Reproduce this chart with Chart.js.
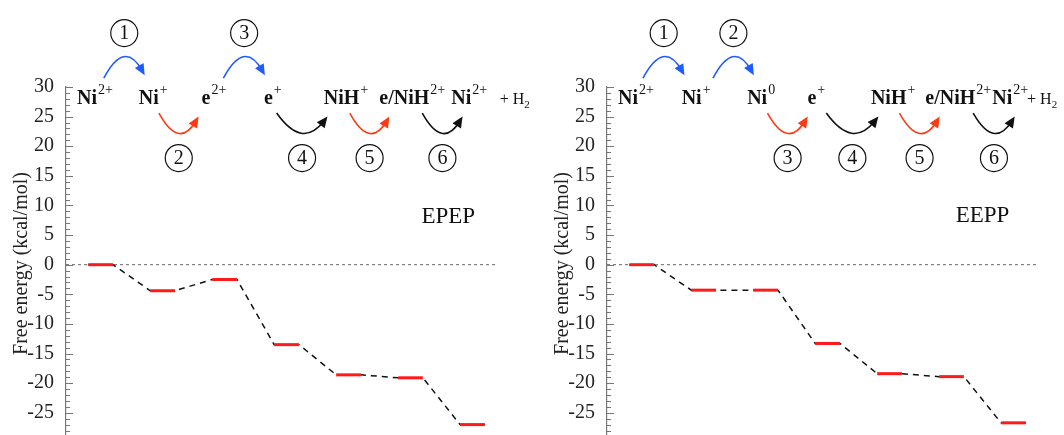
<!DOCTYPE html>
<html lang="en">
<head>
  <meta charset="UTF-8">
  <title>Free energy profiles: EPEP and EEPP</title>
  <style>
    body {
      margin: 0;
      overflow: hidden;
      background: #fff;
    }

    #wrap {
      display: flex;
      width: 1064px;
    }

    .panel {
      position: relative;
      width: 532px;
      height: 456px;
    }
  </style>
</head>
<body>
  <div id="wrap">
    <div class="panel"><canvas id="epepChart"></canvas></div>
    <div class="panel"><canvas id="eeppChart"></canvas></div>
  </div>

  <script src="https://cdn.jsdelivr.net/npm/chart.js"></script>
  <script>
    // data
    const steps = [0, 1, 2, 3, 4, 5, 6];
    const epepEnergy = [0, -4.4, -2.5, -13.5, -18.6, -19.1, -27.0];
    const eeppEnergy = [0, -4.3, -4.3, -13.3, -18.4, -18.9, -26.7];
    const epepSpecies = ['Ni', 'Ni', 'e', 'e', 'NiH', 'e/NiH', 'Ni'];
    const epepCharge = ['2+', '+', '2+', '+', '+', '2+', '2+'];
    const eeppSpecies = ['Ni', 'Ni', 'Ni', 'e', 'NiH', 'e/NiH', 'Ni'];
    const eeppCharge = ['2+', '+', '0', '+', '+', '2+', '2+'];
    // e = electron transfer (blue), p = proton transfer (red), c = chemical step (black)
    const epepArrowKind = ['e', 'p', 'e', 'c', 'p', 'c'];
    const eeppArrowKind = ['e', 'e', 'p', 'c', 'p', 'c'];
    const yTickValues = [-25, -20, -15, -10, -5, 0, 5, 10, 15, 20, 25, 30];

    const SERIF = '"Liberation Serif", "Times New Roman", serif';
    const ARROW_COLORS = { e: '#1f5cff', p: '#ff3a12', c: '#111111' };

    Chart.defaults.font.family = SERIF;
    Chart.defaults.color = '#222';

    function drawSpecies(ctx, cx, baseY, main, sup) {
      ctx.font = 'bold 20px ' + SERIF;
      const w1 = ctx.measureText(main).width;
      ctx.font = '14px ' + SERIF;
      const w2 = ctx.measureText(sup).width;
      const left = cx - (w1 + w2) / 2;
      ctx.fillStyle = '#111';
      ctx.textAlign = 'left';
      ctx.textBaseline = 'alphabetic';
      ctx.font = 'bold 20px ' + SERIF;
      ctx.fillText(main, left, baseY);
      ctx.font = '14px ' + SERIF;
      ctx.fillText(sup, left + w1 + 1, baseY - 10);
    }

    function drawArrow(ctx, x0, y0, xm, ym, x1, y1, color) {
      const cx = (x0 + x1) / 2;
      const cy = 2 * ym - (y0 + y1) / 2;
      let dx = x1 - cx, dy = y1 - cy;
      const len = Math.hypot(dx, dy);
      dx /= len; dy /= len;
      ctx.strokeStyle = color;
      ctx.fillStyle = color;
      ctx.lineWidth = 1.6;
      ctx.setLineDash([]);
      ctx.beginPath();
      ctx.moveTo(x0, y0);
      ctx.quadraticCurveTo(cx, cy, x1 - dx * 6, y1 - dy * 6);
      ctx.stroke();
      ctx.beginPath();
      ctx.moveTo(x1, y1);
      ctx.lineTo(x1 - dx * 11 - dy * 5, y1 - dy * 11 + dx * 5);
      ctx.lineTo(x1 - dx * 11 + dy * 5, y1 - dy * 11 - dx * 5);
      ctx.closePath();
      ctx.fill();
    }

    const schemePlugin = {
      id: 'scheme',
      afterDraw(chart, args, opts) {
        const { ctx, scales: { x, y } } = chart;
        const px = v => x.getPixelForValue(v);
        const py = v => y.getPixelForValue(v);
        ctx.save();

        // inward ticks on the y axis, minor every 1
        ctx.strokeStyle = '#777';
        ctx.lineWidth = 1;
        for (let v = Math.ceil(y.min); v <= y.max; v++) {
          const yy = Math.round(py(v)) + 0.5;
          const len = v % 5 === 0 ? 7 : 4;
          ctx.beginPath();
          ctx.moveTo(x.left, yy);
          ctx.lineTo(x.left + len, yy);
          ctx.stroke();
        }

        // species along the top
        for (let i = 0; i < opts.species.length; i++) {
          drawSpecies(ctx, px(opts.labelX[i]), py(27.2), opts.species[i], opts.charge[i]);
        }
        // + H2
        const hx = px(opts.h2X);
        const hy = py(27.2);
        ctx.font = '16px ' + SERIF;
        ctx.textAlign = 'left';
        ctx.fillText('+ H', hx, hy);
        const wh = ctx.measureText('+ H').width;
        ctx.font = '11px ' + SERIF;
        ctx.fillText('2', hx + wh, hy + 4);

        // step arrows with circled numbers
        opts.arrowKind.forEach((kind, k) => {
          const [a, b] = opts.arrowSpan[k];
          const up = kind === 'e';
          const y0 = up ? 31.5 : 25.6;
          const ym = up ? 34.9 : 22.4;
          const y1 = up ? 32.0 : 25.0;
          drawArrow(ctx, px(a), py(y0), px((a + b) / 2), py(ym), px(b), py(y1), ARROW_COLORS[kind]);

          const ccx = px((a + b) / 2);
          const ccy = py(up ? 39.1 : 18.0);
          ctx.strokeStyle = '#111';
          ctx.lineWidth = 1.2;
          ctx.beginPath();
          ctx.arc(ccx, ccy, 13.5, 0, Math.PI * 2);
          ctx.stroke();
          ctx.fillStyle = '#111';
          ctx.font = '20px ' + SERIF;
          ctx.textAlign = 'center';
          ctx.textBaseline = 'middle';
          ctx.fillText(String(k + 1), ccx, ccy + 1);
          ctx.textBaseline = 'alphabetic';
        });

        // mechanism name
        ctx.fillStyle = '#111';
        ctx.font = '23px ' + SERIF;
        ctx.textAlign = 'center';
        ctx.textBaseline = 'middle';
        ctx.fillText(opts.title, px(opts.titleAt[0]), py(opts.titleAt[1]));
        ctx.restore();
      }
    };

    function makeChart(canvasId, energy, opts, padLeft, padRight) {
      const pts = [];
      steps.forEach((s, i) => {
        pts.push({ x: s - 0.2, y: energy[i] });
        pts.push({ x: s + 0.2, y: energy[i] });
      });
      const xMin = -0.56, xMax = 6.38;

      return new Chart(document.getElementById(canvasId), {
        type: 'line',
        data: {
          datasets: [
            {
              // red levels
              data: pts,
              borderColor: '#ff1a1a',
              borderWidth: 3,
              pointRadius: 0,
              segment: {
                borderColor: c => (c.p0DataIndex % 2 === 0 ? '#ff1a1a' : 'rgba(0,0,0,0)')
              }
            },
            {
              // dashed connectors
              data: pts,
              borderColor: '#111',
              borderWidth: 1.5,
              borderDash: [6, 5],
              pointRadius: 0
            },
            {
              // zero reference
              data: [{ x: xMin, y: 0 }, { x: xMax, y: 0 }],
              borderColor: '#666',
              borderWidth: 1,
              borderDash: [3, 3],
              pointRadius: 0
            }
          ]
        },
        options: {
          responsive: true,
          maintainAspectRatio: false,
          animation: false,
          layout: {
            padding: { top: 87, bottom: 0, left: padLeft, right: padRight }
          },
          plugins: {
            legend: { display: false },
            tooltip: { enabled: false },
            scheme: opts
          },
          scales: {
            x: {
              type: 'linear',
              min: xMin,
              max: xMax,
              display: false
            },
            y: {
              min: -29.6,
              max: 30,
              afterBuildTicks: s => {
                s.ticks = yTickValues.map(v => ({ value: v }));
              },
              afterFit: s => {
                s.width = 66;
              },
              grid: { display: false },
              border: { display: true, color: '#777', width: 1.2 },
              ticks: {
                padding: 4,
                font: { size: 20 },
                color: '#222'
              },
              title: {
                display: true,
                text: 'Free energy (kcal/mol)',
                font: { size: 20 },
                color: '#222',
                padding: { top: 10, bottom: 0 }
              }
            }
          }
        },
        plugins: [schemePlugin]
      });
    }

    makeChart('epepChart', epepEnergy, {
      title: 'EPEP',
      titleAt: [5.61, 8.1],
      species: epepSpecies,
      charge: epepCharge,
      labelX: [-0.1, 0.84, 1.82, 2.77, 3.95, 5.02, 5.94],
      h2X: 6.44,
      arrowKind: epepArrowKind,
      arrowSpan: [[0.05, 0.71], [0.94, 1.58], [1.98, 2.65], [2.84, 3.66], [4.02, 4.66], [5.19, 5.84]]
    }, 0, 36);

    makeChart('eeppChart', eeppEnergy, {
      title: 'EEPP',
      titleAt: [5.5, 8.2],
      species: eeppSpecies,
      charge: eeppCharge,
      labelX: [-0.1, 0.87, 1.92, 2.81, 4.05, 5.1, 5.94],
      h2X: 6.22,
      arrowKind: eeppArrowKind,
      arrowSpan: [[0.02, 0.69], [1.15, 1.81], [2.03, 2.68], [2.98, 3.82], [4.16, 4.81], [5.35, 6.02]]
    }, 9, 27);
  </script>
</body>
</html>
